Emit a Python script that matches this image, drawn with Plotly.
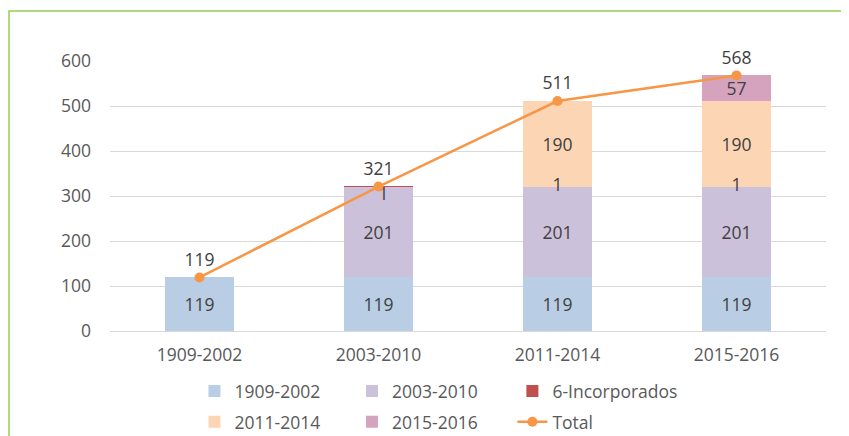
import plotly.graph_objects as go

periods = ["1909-2002", "2003-2010", "2011-2014", "2015-2016"]
s_1909_2002 = [119, 119, 119, 119]
s_2003_2010 = [0, 201, 201, 201]
s_incorp = [0, 1, 1, 1]
s_2011_2014 = [0, 0, 190, 190]
s_2015_2016 = [0, 0, 0, 57]
total = [119, 321, 511, 568]
y_ticks = [0, 100, 200, 300, 400, 500, 600]

FONT = "Open Sans"
TXT = "#404040"
FS = 17.5


def lbl(vals):
    return [str(v) if v > 0 else "" for v in vals]


fig = go.Figure()

# legend columns: legend (col 1), legend2 (col 2), legend3 (col 3)
bars = [
    ("1909-2002", s_1909_2002, "#b9cde5", "legend", True),
    ("2003-2010", s_2003_2010, "#ccc1da", "legend2", True),
    ("6-Incorporados", s_incorp, "#c0504d", "legend3", False),
    ("2011-2014", s_2011_2014, "#fcd5b5", "legend", True),
    ("2015-2016", s_2015_2016, "#d5a3be", "legend2", True),
]
for name, vals, col, lg, show_txt in bars:
    fig.add_trace(go.Bar(
        x=periods, y=vals, name=name, marker_color=col, marker_line_width=0,
        text=lbl(vals) if show_txt else None,
        textposition="inside" if show_txt else "none",
        insidetextanchor="middle", textangle=0, constraintext="none",
        textfont=dict(family=FONT, size=FS, color=TXT),
        legend=lg, legendgroup=name,
    ))

# labels of the thin 6-Incorporados segment, placed at its middle
base = [a + b for a, b in zip(s_1909_2002, s_2003_2010)]
inc_mid = [b + v / 2 for b, v in zip(base, s_incorp)]
fig.add_trace(go.Scatter(
    x=periods[1:], y=inc_mid[1:], mode="text", text=lbl(s_incorp)[1:],
    textposition=["bottom right", "middle center", "middle center"],
    textfont=dict(family=FONT, size=FS, color=TXT),
    showlegend=False, hoverinfo="skip", cliponaxis=False,
))

fig.add_trace(go.Scatter(
    x=periods, y=total, name="Total", mode="lines+markers+text",
    line=dict(color="#f79646", width=2.5),
    marker=dict(color="#f79646", size=10),
    text=[str(v) for v in total], textposition="top center",
    textfont=dict(family=FONT, size=FS, color=TXT),
    cliponaxis=False, legend="legend3", legendgroup="Total",
))

leg = dict(orientation="v", xanchor="left", y=-0.156, yanchor="top",
           font=dict(size=FS), itemclick=False, traceorder="grouped",
           tracegroupgap=5, bgcolor="rgba(0,0,0,0)")
fig.update_layout(
    width=849, height=436,
    margin=dict(l=102, r=31, t=53, b=113, autoexpand=False),
    paper_bgcolor="white", plot_bgcolor="white",
    barmode="stack", bargap=0.61,
    font=dict(family=FONT, size=FS, color="#595959"),
    legend=dict(leg, x=0.118),
    legend2=dict(leg, x=0.338),
    legend3=dict(leg, x=0.562),
    shapes=[dict(type="rect", xref="paper", yref="paper",
                 xsizemode="pixel", ysizemode="pixel", xanchor=0, yanchor=1,
                 x0=-101, x1=900, y0=50, y1=-500,
                 line=dict(color="#92d050", width=1.5), fillcolor="rgba(0,0,0,0)")],
)
fig.update_xaxes(showgrid=False, showline=True, linecolor="#d9d9d9", ticks="",
                 ticklabelstandoff=8, tickfont=dict(size=FS, color="#595959"))
fig.update_yaxes(range=[0, 600], tickvals=y_ticks, showgrid=True, gridcolor="#d9d9d9",
                 zeroline=False, showline=False, ticks="", ticklabelstandoff=18,
                 tickfont=dict(size=FS, color="#595959"))

fig.write_html("out.html")
